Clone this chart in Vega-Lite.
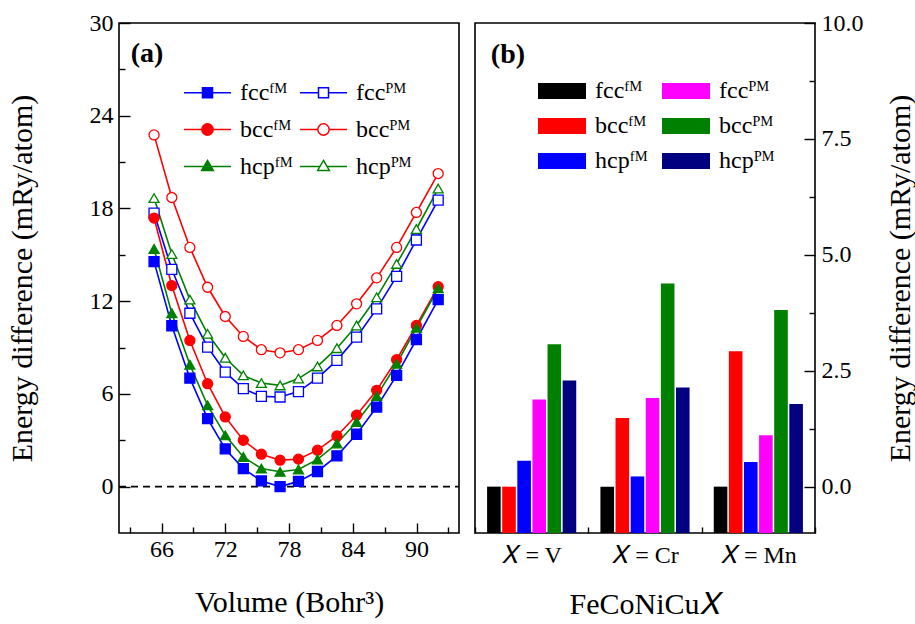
{
  "$schema": "https://vega.github.io/schema/vega-lite/v6.json",
  "background": "white",
  "padding": {"left": 6, "top": 10, "right": 0, "bottom": 0},
  "spacing": 12,
  "config": {
    "view": {"stroke": "black", "strokeWidth": 1.6},
    "font": "Liberation Serif",
    "axis": {"domain": false, "grid": false, "labelFont": "Liberation Serif", "titleFont": "Liberation Serif", "labelColor": "black", "titleColor": "black", "tickColor": "black", "tickWidth": 1.4, "labelFontSize": 24, "titleFontSize": 30, "titleFontWeight": "normal", "labelOverlap": false},
    "legend": {"labelFont": "Liberation Serif", "labelColor": "black"}
  },
  "datasets": {
    "curves": [
      {"V":65.3,"E":14.56,"s":"fccFM"},{"V":66.97,"E":10.41,"s":"fccFM"},{"V":68.67,"E":7.02,"s":"fccFM"},{"V":70.34,"E":4.40,"s":"fccFM"},{"V":72.0,"E":2.44,"s":"fccFM"},{"V":73.7,"E":1.17,"s":"fccFM"},{"V":75.4,"E":0.37,"s":"fccFM"},{"V":77.16,"E":0.0,"s":"fccFM"},{"V":78.89,"E":0.34,"s":"fccFM"},{"V":80.68,"E":0.98,"s":"fccFM"},{"V":82.51,"E":1.99,"s":"fccFM"},{"V":84.36,"E":3.39,"s":"fccFM"},{"V":86.25,"E":5.15,"s":"fccFM"},{"V":88.13,"E":7.20,"s":"fccFM"},{"V":89.99,"E":9.52,"s":"fccFM"},{"V":92.04,"E":12.10,"s":"fccFM"},
      {"V":65.3,"E":17.70,"s":"fccPM"},{"V":66.97,"E":14.06,"s":"fccPM"},{"V":68.67,"E":11.22,"s":"fccPM"},{"V":70.34,"E":9.03,"s":"fccPM"},{"V":72.0,"E":7.41,"s":"fccPM"},{"V":73.7,"E":6.34,"s":"fccPM"},{"V":75.4,"E":5.84,"s":"fccPM"},{"V":77.16,"E":5.80,"s":"fccPM"},{"V":78.89,"E":6.15,"s":"fccPM"},{"V":80.68,"E":7.02,"s":"fccPM"},{"V":82.51,"E":8.17,"s":"fccPM"},{"V":84.36,"E":9.67,"s":"fccPM"},{"V":86.25,"E":11.50,"s":"fccPM"},{"V":88.13,"E":13.61,"s":"fccPM"},{"V":89.99,"E":15.96,"s":"fccPM"},{"V":92.04,"E":18.54,"s":"fccPM"},
      {"V":65.3,"E":17.38,"s":"bccFM"},{"V":66.97,"E":13.01,"s":"bccFM"},{"V":68.67,"E":9.46,"s":"bccFM"},{"V":70.34,"E":6.66,"s":"bccFM"},{"V":72.0,"E":4.51,"s":"bccFM"},{"V":73.7,"E":3.0,"s":"bccFM"},{"V":75.4,"E":2.10,"s":"bccFM"},{"V":77.16,"E":1.71,"s":"bccFM"},{"V":78.89,"E":1.78,"s":"bccFM"},{"V":80.68,"E":2.36,"s":"bccFM"},{"V":82.51,"E":3.28,"s":"bccFM"},{"V":84.36,"E":4.62,"s":"bccFM"},{"V":86.25,"E":6.23,"s":"bccFM"},{"V":88.13,"E":8.21,"s":"bccFM"},{"V":89.99,"E":10.43,"s":"bccFM"},{"V":92.04,"E":12.94,"s":"bccFM"},
      {"V":65.3,"E":22.76,"s":"bccPM"},{"V":66.97,"E":18.71,"s":"bccPM"},{"V":68.67,"E":15.48,"s":"bccPM"},{"V":70.34,"E":12.90,"s":"bccPM"},{"V":72.0,"E":11.01,"s":"bccPM"},{"V":73.7,"E":9.72,"s":"bccPM"},{"V":75.4,"E":8.86,"s":"bccPM"},{"V":77.16,"E":8.66,"s":"bccPM"},{"V":78.89,"E":8.86,"s":"bccPM"},{"V":80.68,"E":9.46,"s":"bccPM"},{"V":82.51,"E":10.43,"s":"bccPM"},{"V":84.36,"E":11.83,"s":"bccPM"},{"V":86.25,"E":13.51,"s":"bccPM"},{"V":88.13,"E":15.48,"s":"bccPM"},{"V":89.99,"E":17.74,"s":"bccPM"},{"V":92.04,"E":20.26,"s":"bccPM"},
      {"V":65.3,"E":15.38,"s":"hcpFM"},{"V":66.97,"E":11.22,"s":"hcpFM"},{"V":68.67,"E":7.89,"s":"hcpFM"},{"V":70.34,"E":5.26,"s":"hcpFM"},{"V":72.0,"E":3.32,"s":"hcpFM"},{"V":73.7,"E":1.92,"s":"hcpFM"},{"V":75.4,"E":1.17,"s":"hcpFM"},{"V":77.16,"E":0.96,"s":"hcpFM"},{"V":78.89,"E":1.11,"s":"hcpFM"},{"V":80.68,"E":1.76,"s":"hcpFM"},{"V":82.51,"E":2.79,"s":"hcpFM"},{"V":84.36,"E":4.18,"s":"hcpFM"},{"V":86.25,"E":5.86,"s":"hcpFM"},{"V":88.13,"E":7.95,"s":"hcpFM"},{"V":89.99,"E":10.28,"s":"hcpFM"},{"V":92.04,"E":12.83,"s":"hcpFM"},
      {"V":65.3,"E":18.67,"s":"hcpPM"},{"V":66.97,"E":15.05,"s":"hcpPM"},{"V":68.67,"E":12.1,"s":"hcpPM"},{"V":70.34,"E":9.89,"s":"hcpPM"},{"V":72.0,"E":8.34,"s":"hcpPM"},{"V":73.7,"E":7.20,"s":"hcpPM"},{"V":75.4,"E":6.70,"s":"hcpPM"},{"V":77.16,"E":6.55,"s":"hcpPM"},{"V":78.89,"E":6.99,"s":"hcpPM"},{"V":80.68,"E":7.78,"s":"hcpPM"},{"V":82.51,"E":8.96,"s":"hcpPM"},{"V":84.36,"E":10.43,"s":"hcpPM"},{"V":86.25,"E":12.25,"s":"hcpPM"},{"V":88.13,"E":14.41,"s":"hcpPM"},{"V":89.99,"E":16.67,"s":"hcpPM"},{"V":92.04,"E":19.29,"s":"hcpPM"}
    ],
    "bars": [
      {"alloy":"V","phase":"fcc FM","E":0.0},{"alloy":"V","phase":"bcc FM","E":0.0},{"alloy":"V","phase":"hcp FM","E":0.56},{"alloy":"V","phase":"fcc PM","E":1.88},{"alloy":"V","phase":"bcc PM","E":3.07},{"alloy":"V","phase":"hcp PM","E":2.29},
      {"alloy":"Cr","phase":"fcc FM","E":0.0},{"alloy":"Cr","phase":"bcc FM","E":1.48},{"alloy":"Cr","phase":"hcp FM","E":0.22},{"alloy":"Cr","phase":"fcc PM","E":1.91},{"alloy":"Cr","phase":"bcc PM","E":4.38},{"alloy":"Cr","phase":"hcp PM","E":2.14},
      {"alloy":"Mn","phase":"fcc FM","E":0.0},{"alloy":"Mn","phase":"bcc FM","E":2.92},{"alloy":"Mn","phase":"hcp FM","E":0.53},{"alloy":"Mn","phase":"fcc PM","E":1.11},{"alloy":"Mn","phase":"bcc PM","E":3.81},{"alloy":"Mn","phase":"hcp PM","E":1.78}
    ],
    "labels": [{"panel": "(a)", "V": 63.1, "E": 28.9}, {"panel": "(b)", "alloy": "V", "E": 9.62}]
  },
  "hconcat": [
    {
      "width": 340,
      "height": 510,
      "resolve": {"axis": {"x": "independent"}},
      "layer": [
        {
          "data": {"values": [{}]},
          "mark": {"type": "rule", "strokeDash": [7, 5], "color": "black", "strokeWidth": 1.6},
          "encoding": {
            "y": {"datum": 0, "type": "quantitative"},
            "x": {"datum": 62, "type": "quantitative", "axis": {"orient": "bottom", "values": [63,69,75,81,87,93], "tickSize": -6, "labels": false, "title": null}},
            "x2": {"datum": 94}
          }
        },
        {
          "data": {"name": "curves"},
          "mark": {"type": "line", "strokeWidth": 1.6},
          "encoding": {
            "x": {"field": "V", "type": "quantitative", "scale": {"domain": [62, 94], "nice": false, "zero": false},
              "axis": {"orient": "bottom", "title": "Volume (Bohr³)", "values": [66,72,78,84,90], "labelOverlap": false, "labelFlush": false,
                "tickSize": -10, "labelPadding": 14, "titlePadding": 26}},
            "y": {"field": "E", "type": "quantitative", "scale": {"domain": [-3, 30], "nice": false, "zero": false},
              "axis": {"title": "Energy difference (mRy/atom)", "values": [0,3,6,9,12,15,18,21,24,27,30], "labelExpr": "datum.value % 6 === 0 ? datum.label : ''", "labelOverlap": false,
                "tickSize": {"condition": {"test": "datum.value % 6 === 0", "value": -11}, "value": -6}, "labelPadding": 17, "titlePadding": 52}},
            "stroke": {"field": "s", "type": "nominal",
              "scale": {"domain": ["fccFM","fccPM","bccFM","bccPM","hcpFM","hcpPM"], "range": ["#0000ff","#0000ff","#ff0000","#ff0000","#008000","#008000"]}},
            "detail": {"field": "s"}
          }
        },
        {
          "data": {"name": "curves"},
          "transform": [{"filter": "datum.s === 'fccFM' || datum.s === 'fccPM'"}],
          "mark": {"type": "point", "shape": "square", "size": 100, "strokeWidth": 1.3, "opacity": 1},
          "encoding": {
            "x": {"field": "V", "type": "quantitative", "axis": null},
            "y": {"field": "E", "type": "quantitative"},
            "stroke": {"field": "s", "type": "nominal"},
            "fill": {"field": "s", "type": "nominal",
              "scale": {"domain": ["fccFM","fccPM","bccFM","bccPM","hcpFM","hcpPM"], "range": ["#0000ff","#ffffff","#ff0000","#ffffff","#008000","#ffffff"]}}
          }
        },
        {
          "data": {"name": "curves"},
          "transform": [{"filter": "datum.s === 'bccFM' || datum.s === 'bccPM'"}],
          "mark": {"type": "point", "shape": "circle", "size": 100, "strokeWidth": 1.3, "opacity": 1},
          "encoding": {
            "x": {"field": "V", "type": "quantitative", "axis": null},
            "y": {"field": "E", "type": "quantitative"},
            "stroke": {"field": "s", "type": "nominal"},
            "fill": {"field": "s", "type": "nominal"}
          }
        },
        {
          "data": {"name": "curves"},
          "transform": [{"filter": "datum.s === 'hcpFM' || datum.s === 'hcpPM'"}],
          "mark": {"type": "point", "shape": "triangle-up", "size": 100, "strokeWidth": 1.3, "opacity": 1},
          "encoding": {
            "x": {"field": "V", "type": "quantitative", "axis": null},
            "y": {"field": "E", "type": "quantitative"},
            "stroke": {"field": "s", "type": "nominal"},
            "fill": {"field": "s", "type": "nominal"}
          }
        },
        {
          "data": {"name": "curves"},
          "transform": [{"filter": "false"}],
          "mark": {"type": "point", "opacity": 1},
          "encoding": {
            "x": {"field": "V", "type": "quantitative", "axis": null},
            "y": {"field": "E", "type": "quantitative"},
            "stroke": {"field": "s", "type": "nominal"},
            "fill": {"field": "s", "type": "nominal"},
            "shape": {"field": "s", "type": "nominal",
              "scale": {"domain": ["fccFM","fccPM","bccFM","bccPM","hcpFM","hcpPM"],
                "range": [
                  "M-1,0H-0.213M0.213,0H1M-0.213,-0.213H0.213V0.213H-0.213Z",
                  "M-1,0H-0.213M0.213,0H1M-0.213,-0.213H0.213V0.213H-0.213Z",
                  "M-1,0H-0.24M0.24,0H1M-0.24,0A0.24,0.24,0,1,1,0.24,0A0.24,0.24,0,1,1,-0.24,0Z",
                  "M-1,0H-0.24M0.24,0H1M-0.24,0A0.24,0.24,0,1,1,0.24,0A0.24,0.24,0,1,1,-0.24,0Z",
                  "M-1,0H-0.151M0.151,0H1M0,-0.26L0.25,0.17H-0.25Z",
                  "M-1,0H-0.151M0.151,0H1M0,-0.26L0.25,0.17H-0.25Z"
                ]},
              "legend": {"title": null, "orient": "none", "legendX": 64, "legendY": 45, "direction": "horizontal", "columns": 2, "columnPadding": 4, "rowPadding": -13.5, "labelFontSize": 24, "labelOffset": 8, "symbolSize": 2209, "symbolStrokeWidth": 1.5,
                "labelExpr": "replace(replace(datum.label, 'FM', 'ᶠᴹ'), 'PM', 'ᴾᴹ')"}}
          }
        },
        {
          "data": {"name": "labels"},
          "transform": [{"filter": "datum.panel === '(a)'"}],
          "mark": {"type": "text", "font": "Liberation Serif", "fontSize": 28, "fontWeight": "bold", "align": "left", "baseline": "top", "color": "black"},
          "encoding": {"x": {"field": "V", "type": "quantitative", "axis": null}, "y": {"field": "E", "type": "quantitative"}, "text": {"field": "panel"}}
        }
      ]
    },
    {
      "width": 340,
      "height": 510,
      "layer": [
        {
          "data": {"name": "bars"},
          "mark": {"type": "bar"},
          "encoding": {
            "x": {"field": "alloy", "type": "nominal", "sort": ["V","Cr","Mn"], "scale": {"paddingInner": 0, "paddingOuter": 0},
              "axis": {"title": "FeCoNiCu𝑋", "labelAngle": 0, "labelExpr": "datum.label ? '𝑋 = ' + datum.label : ''", "tickBand": "extent", "tickSize": -6, "labelPadding": 16, "titlePadding": 22}},
            "xOffset": {"field": "phase", "type": "nominal", "sort": ["fcc FM","bcc FM","hcp FM","fcc PM","bcc PM","hcp PM"], "scale": {"paddingInner": 0.1, "paddingOuter": 0.8}},
            "y": {"field": "E", "type": "quantitative", "scale": {"domain": [-1, 10], "nice": false, "zero": false},
              "axis": {"orient": "right", "title": "Energy difference (mRy/atom)", "titleAngle": 270, "titleBaseline": "top", "values": [0,1.25,2.5,3.75,5,6.25,7.5,8.75,10],
                "labelExpr": "datum.value % 2.5 === 0 ? format(datum.value, '.1f') : ''",
                "tickSize": {"condition": {"test": "datum.value % 2.5 === 0", "value": -11}, "value": -6}, "labelPadding": 17, "titlePadding": 22}},
            "y2": {"datum": -1},
            "color": {"field": "phase", "type": "nominal",
              "scale": {"domain": ["fcc FM","fcc PM","bcc FM","bcc PM","hcp FM","hcp PM"], "range": ["#000000","#ff00ff","#ff0000","#008000","#0000ff","#000080"]},
              "legend": {"title": null, "orient": "none", "legendX": 427, "legendY": 52, "direction": "horizontal", "columns": 2, "columnPadding": 14, "rowPadding": 7, "labelFontSize": 24, "labelOffset": 17,
                "symbolType": "M-1.5,-0.5H1.5V0.5H-1.5Z", "symbolSize": 1024, "symbolStrokeWidth": 0,
                "labelExpr": "replace(replace(datum.label, ' FM', 'ᶠᴹ'), ' PM', 'ᴾᴹ')"}}
          }
        },
        {
          "data": {"name": "labels"},
          "transform": [{"filter": "datum.panel === '(b)'"}],
          "mark": {"type": "text", "font": "Liberation Serif", "fontSize": 28, "fontWeight": "bold", "align": "left", "baseline": "top", "color": "black"},
          "encoding": {"x": {"field": "alloy", "type": "nominal", "sort": ["V","Cr","Mn"], "bandPosition": 0.14}, "y": {"field": "E", "type": "quantitative"}, "text": {"field": "panel"}}
        }
      ]
    }
  ]
}
